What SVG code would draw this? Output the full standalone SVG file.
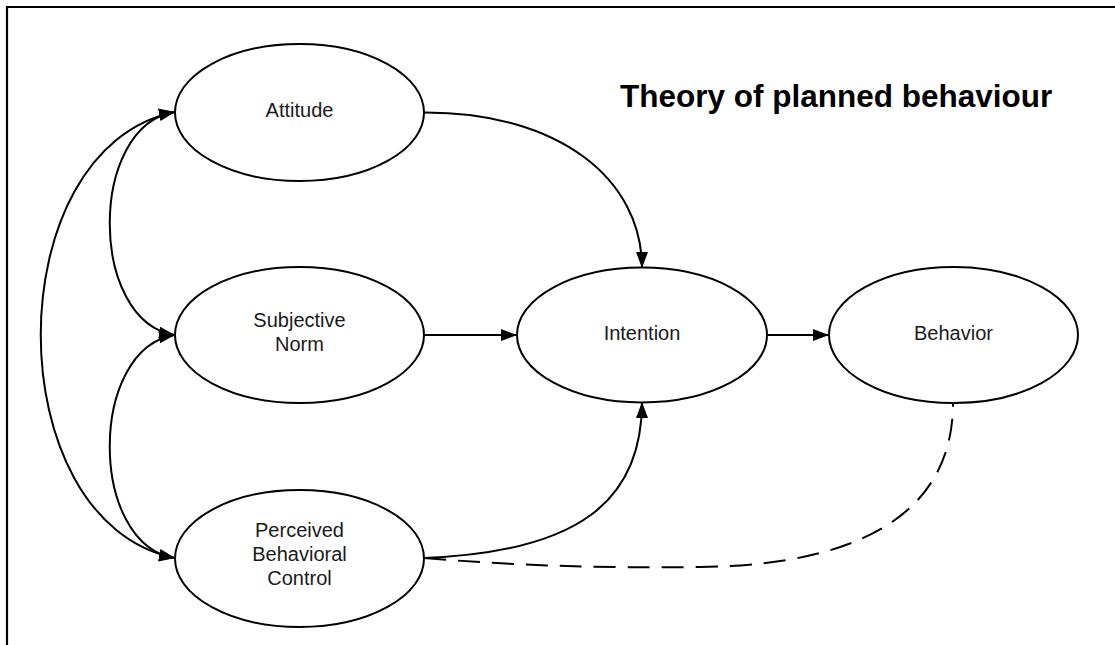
<svg xmlns="http://www.w3.org/2000/svg" width="1115" height="645" viewBox="0 0 1115 645">
  <style>
    .node ellipse { fill: #ffffff; stroke: #000000; stroke-width: 2; }
    .node text { font-family: "Liberation Sans", Arial, sans-serif; font-size: 20px; fill: #1a1a1a; text-anchor: middle; }
    .edge { fill: none; stroke: #000000; stroke-width: 2; }
    .arrow-end { marker-end: url(#arrowhead); }
    .arrow-both { marker-start: url(#arrowhead); marker-end: url(#arrowhead); }
    .dashed { stroke-dasharray: 22 12; }
    .title { font-family: "Liberation Sans", Arial, sans-serif; font-size: 31.5px; font-weight: bold; fill: #000000; }
    .frame { stroke: #000000; stroke-width: 2.2; fill: none; }
  </style>
  <defs>
    <marker id="arrowhead" markerUnits="userSpaceOnUse" markerWidth="17" markerHeight="13" refX="16" refY="6" orient="auto-start-reverse">
      <path d="M0,0 L16,6 L0,12 z" fill="#000000"/>
    </marker>
  </defs>

  <rect width="1115" height="645" fill="#ffffff"/>
  <!-- outer frame (top and left edges) -->
  <path class="frame" d="M7,645 L7,7 L1115,7"/>

  <text class="title" x="620" y="107">Theory of planned behaviour</text>

  <!-- connectors -->
  <g id="connectors">
    <path class="edge arrow-both" d="M175,112 C -4,148 -4,522 175,558"/>
    <path class="edge arrow-both" d="M175,112 C 88,125 88,322 175,335"/>
    <path class="edge arrow-both" d="M175,335 C 88,348 88,545 175,558"/>
    <path class="edge arrow-end" d="M424,112.5 C 560,112 642,180 642,268"/>
    <path class="edge arrow-end" d="M424,335 L517,335"/>
    <path class="edge arrow-end" d="M767,335 L829,335"/>
    <path class="edge dashed" d="M424,558 C 520,566 600,568 700,567 C 880,565 953,500 953,403"/>
    <path class="edge arrow-end" d="M424,558 C 580,552 642,500 642,402"/>
  </g>

  <g id="node-attitude" class="node">
    <ellipse cx="299.5" cy="112.5" rx="124.5" ry="68.5"/>
    <text x="299.5" y="117">Attitude</text>
  </g>

  <g id="node-subjective-norm" class="node">
    <ellipse cx="299.5" cy="335" rx="124.5" ry="68"/>
    <text x="299.5" y="327">Subjective</text>
    <text x="299.5" y="351">Norm</text>
  </g>

  <g id="node-perceived-control" class="node">
    <ellipse cx="299.5" cy="558.5" rx="124.5" ry="68.5"/>
    <text x="299.5" y="537">Perceived</text>
    <text x="299.5" y="561">Behavioral</text>
    <text x="299.5" y="585">Control</text>
  </g>

  <g id="node-intention" class="node">
    <ellipse cx="642" cy="335" rx="125" ry="67.5"/>
    <text x="642" y="339.5">Intention</text>
  </g>

  <g id="node-behavior" class="node">
    <ellipse cx="953.5" cy="335" rx="124.5" ry="68"/>
    <text x="953.5" y="339.5">Behavior</text>
  </g>
</svg>
